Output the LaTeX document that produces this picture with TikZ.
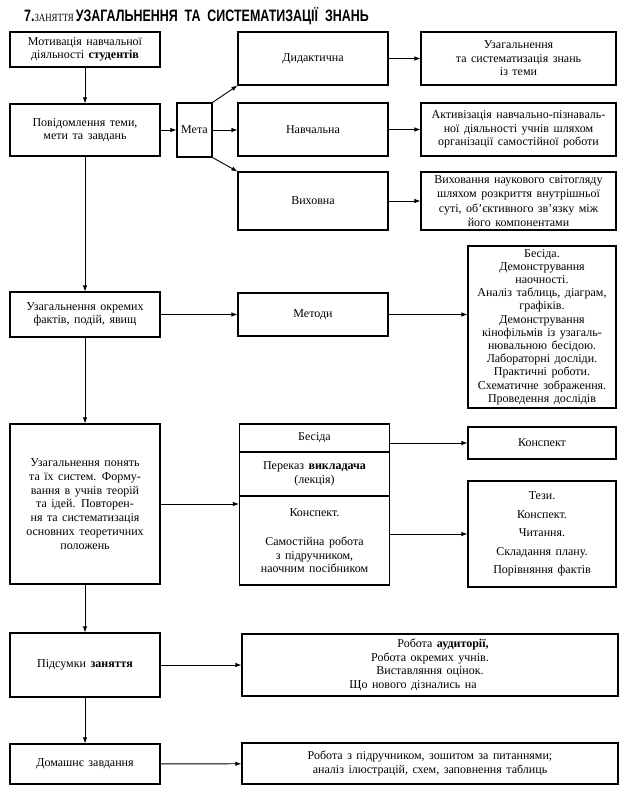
\documentclass[tikz,border=0pt]{standalone}
\usepackage{fontspec}
\setmainfont[WordSpace=1.5]{Liberation Serif}
\newfontfamily\titlefont[FakeStretch=0.755]{Liberation Sans}
\newfontfamily\capsfont[FakeStretch=0.8]{Liberation Serif}
\usetikzlibrary{positioning, arrows.meta}

\begin{document}
\begin{tikzpicture}[
    x=1pt, y=-1pt,
    font=\fontsize{12}{13.5}\selectfont,
    box/.style={rectangle, draw=black, line width=1.1pt, inner sep=1pt, align=center},
    left/.style={box, minimum width=150},
    mid/.style={box, minimum width=150},
    right/.style={box, minimum width=195},
    arrow/.style={-{Latex[length=6pt, width=4.5pt]}, line width=0.9pt},
    title/.style={anchor=base west, inner sep=0pt}
]
\useasboundingbox (0,0) rectangle (628,800);

% --- Заголовок ---
\node[title] (title) at (24,22) {{\titlefont\bfseries\fontsize{16.5}{16}\selectfont 7.}{\capsfont\fontsize{11}{11}\selectfont ЗАНЯТТЯ}\,{\titlefont\bfseries\fontsize{16.5}{16}\selectfont УЗАГАЛЬНЕННЯ\ \ ТА\ \ СИСТЕМАТИЗАЦІЇ\ \ ЗНАНЬ}};

% --- Лівий стовпець ---
\node[left, minimum height=35] (motyvatsiya) at (85,49.5) {Мотивація навчальної\\діяльності \textbf{студентів}};
\node[left, minimum height=52] (povidomlennya) at (85,130) {Повідомлення теми,\\мети та завдань};
\node[left, minimum height=45] (okremykh) at (85,314.5) {Узагальнення окремих\\фактів, подій, явищ};
\node[left, minimum height=160, font=\fontsize{12}{13.8}\selectfont] (ponyattya) at (85,504) {Узагальнення понять\\та їх систем. Форму-\\вання в учнів теорій\\та ідей. Повторен-\\ня та систематизація\\основних теоретичних\\положень};
\node[left, minimum height=64] (pidsumky) at (85,665) {Підсумки \textbf{заняття}};
\node[left, minimum height=40] (domashnye) at (85,764) {Домашнє завдання};

% --- Мета ---
\node[box, minimum width=35, minimum height=54] (meta) at (194.5,130) {Мета};

% --- Середній стовпець ---
\node[mid, minimum height=53] (dydaktychna) at (313,58.5) {Дидактична};
\node[mid, minimum height=53] (navchalna) at (313,129.5) {Навчальна};
\node[mid, minimum height=58] (vykhovna) at (313,201) {Виховна};
\node[mid, minimum height=43] (metody) at (313,314.5) {Методи};
\node[mid, minimum height=28] (besida) at (314.5,438) {Бесіда};
\node[mid, minimum height=44] (perekaz) at (314.5,474) {Переказ \textbf{викладача}\\(лекція)};
\node[mid, minimum height=89] (samost) at (314.5,540.5) {Конспект.\\[16pt]Самостійна робота\\з підручником,\\наочним посібником};

% --- Правий стовпець ---
\node[right, minimum height=53] (uzahalnennya) at (518.5,58.5) {Узагальнення\\та систематизація знань\\із теми};
\node[right, minimum height=53] (aktyvizatsiya) at (518.5,129.5) {Активізація навчально-пізнаваль-\\ної діяльності учнів шляхом\\організації самостійної роботи};
\node[right, minimum height=58, font=\fontsize{12}{14.2}\selectfont] (vykhovannya) at (518.5,201) {Виховання наукового світогляду\\шляхом розкриття внутрішньої\\суті, об’єктивного зв’язку між\\його компонентами};
\node[box, minimum width=148, minimum height=162, font=\fontsize{12}{13.2}\selectfont] (metodylist) at (542,327) {Бесіда.\\Демонстрування\\наочності.\\Аналіз таблиць, діаграм,\\графіків.\\Демонстрування\\кінофільмів із узагаль-\\нювальною бесідою.\\Лабораторні досліди.\\Практичні роботи.\\Схематичне зображення.\\Проведення дослідів};
\node[box, minimum width=148, minimum height=32] (konspekt) at (542,443) {Конспект};
\node[box, minimum width=148, minimum height=106, font=\fontsize{12}{18.5}\selectfont] (tezy) at (542,534) {Тези.\\Конспект.\\Читання.\\Складання плану.\\Порівняння фактів};

% --- Нижні блоки ---
\node[box, minimum width=376, minimum height=62] (robota) at (430,665) {\hspace*{26pt}Робота \textbf{аудиторії,}\\Робота окремих учнів.\\Виставляння оцінок.\\Що нового дізнались на\hspace*{34pt}};
\node[box, minimum width=376, minimum height=41] (domzavdannya) at (430,763.5) {Робота з підручником, зошитом за питаннями;\\аналіз ілюстрацій, схем, заповнення таблиць};

% --- Стрілки ---
\draw[arrow] (motyvatsiya) -- (povidomlennya);
\draw[arrow] (povidomlennya) -- (meta);
\draw[arrow] (meta.north east) -- (dydaktychna.south west);
\draw[arrow] (meta.east) -- (meta.east -| navchalna.west);
\draw[arrow] (meta.south east) -- (vykhovna.north west);

\draw[arrow] (dydaktychna) -- (uzahalnennya);
\draw[arrow] (navchalna) -- (aktyvizatsiya);
\draw[arrow] (vykhovna) -- (vykhovannya);

\draw[arrow] (povidomlennya) -- (okremykh);
\draw[arrow] (okremykh) -- (metody);
\draw[arrow] (metody.east) -- (metody.east -| metodylist.west);

\draw[arrow] (okremykh) -- (ponyattya);
\draw[arrow] (ponyattya.east) -- (ponyattya.east -| samost.west);
\draw[arrow] (besida.east |- konspekt.west) -- (konspekt.west);
\draw[arrow] (samost.east |- tezy.west) -- (tezy.west);

\draw[arrow] (ponyattya) -- (pidsumky);
\draw[arrow] (pidsumky) -- (robota);
\draw[arrow] (pidsumky) -- (domashnye);
\draw[arrow] (domashnye) -- (domzavdannya);

\end{tikzpicture}
\end{document}
